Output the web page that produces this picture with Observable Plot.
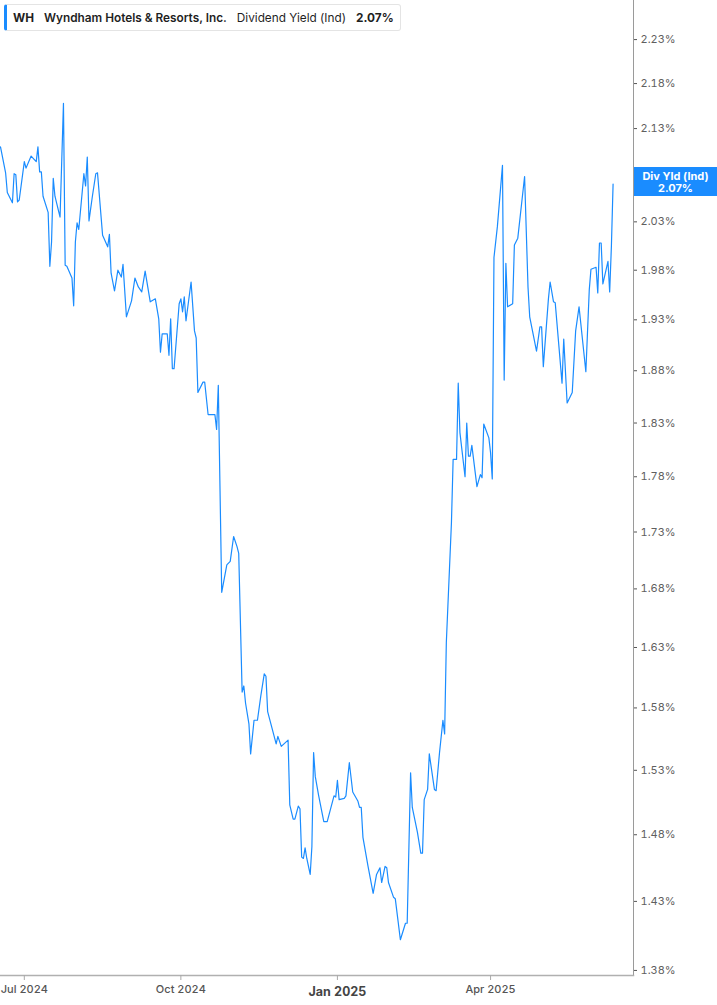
<!DOCTYPE html>
<html>
<head>
<meta charset="utf-8">
<script src="https://cdn.jsdelivr.net/npm/d3@7"></script>
<script src="https://cdn.jsdelivr.net/npm/@observablehq/plot@0.6"></script>
<style>
  body { margin: 0; background: #fff; font-family: Inter, "Noto Sans", sans-serif; }
  #wrap { position: relative; width: 717px; height: 1005px; overflow: hidden; }
  #hdr { position: absolute; left: 4px; top: 4px; height: 27px; width: 397px; box-sizing: border-box;
         border: 1px solid #e4e4e4; border-left: 3px solid #1a8cff; border-radius: 3px; background: #fff;
         display: flex; align-items: center; font-size: 11.8px; color: #1f1f1f; padding-left: 6px; white-space: nowrap; }
  #hdr span { margin-right: 10px; }
  .b { font-weight: 700; }
  .sb { font-weight: 600; }
  #tag { position: absolute; left: 634px; width: 83px; height: 29px; background: #1a8cff; color: #fff;
         font-size: 11px; font-weight: 700; line-height: 12px; text-align: center; display: flex;
         flex-direction: column; justify-content: center; }
</style>
</head>
<body>
<div id="wrap">
  <div id="chart"></div>
  <div id="hdr"></div>
  <div id="tag"></div>
</div>
<script>
const ticker = "WH";
const company = "Wyndham Hotels & Resorts, Inc.";
const metric = "Dividend Yield (Ind)";
const tagLabel = "Div Yld (Ind)";

const dates = [
"2024-06-17","2024-06-20","2024-06-21","2024-06-24","2024-06-25","2024-06-26","2024-06-27","2024-06-28",
"2024-07-01","2024-07-02","2024-07-05","2024-07-08","2024-07-09","2024-07-10","2024-07-11","2024-07-12",
"2024-07-15","2024-07-16","2024-07-17","2024-07-18","2024-07-19","2024-07-22","2024-07-24","2024-07-25",
"2024-07-26","2024-07-29","2024-07-30","2024-07-31","2024-08-01","2024-08-02","2024-08-05","2024-08-06",
"2024-08-07","2024-08-08","2024-08-10","2024-08-12","2024-08-13","2024-08-16","2024-08-19","2024-08-20",
"2024-08-21","2024-08-23","2024-08-25","2024-08-27","2024-08-28","2024-08-30","2024-09-02","2024-09-04",
"2024-09-06","2024-09-08","2024-09-10","2024-09-13","2024-09-16","2024-09-18","2024-09-19","2024-09-20",
"2024-09-23","2024-09-24","2024-09-25","2024-09-26","2024-09-27","2024-09-30","2024-10-01","2024-10-02",
"2024-10-03","2024-10-04","2024-10-07","2024-10-09","2024-10-10","2024-10-11","2024-10-14","2024-10-15",
"2024-10-17","2024-10-21","2024-10-22","2024-10-23","2024-10-25","2024-10-28","2024-10-30","2024-11-01",
"2024-11-03","2024-11-04","2024-11-06","2024-11-07","2024-11-08","2024-11-10","2024-11-11","2024-11-13",
"2024-11-15","2024-11-17","2024-11-19","2024-11-20","2024-11-21","2024-11-26","2024-11-27","2024-11-29",
"2024-12-03","2024-12-04","2024-12-06","2024-12-07","2024-12-09","2024-12-10","2024-12-11","2024-12-12",
"2024-12-13","2024-12-14","2024-12-16","2024-12-17","2024-12-18","2024-12-19","2024-12-21","2024-12-24",
"2024-12-26","2024-12-30","2024-12-31","2025-01-01","2025-01-02","2025-01-05","2025-01-06","2025-01-08",
"2025-01-10","2025-01-13","2025-01-14","2025-01-15","2025-01-16","2025-01-19","2025-01-22","2025-01-24",
"2025-01-26","2025-01-27","2025-01-29","2025-01-30","2025-01-31","2025-02-03","2025-02-04","2025-02-07",
"2025-02-10","2025-02-11","2025-02-13","2025-02-14","2025-02-17","2025-02-19","2025-02-20","2025-02-21",
"2025-02-23","2025-02-24","2025-02-27","2025-02-28","2025-03-02","2025-03-04","2025-03-05","2025-03-06",
"2025-03-09","2025-03-10","2025-03-12","2025-03-13","2025-03-14","2025-03-17","2025-03-18","2025-03-19",
"2025-03-20","2025-03-21","2025-03-24","2025-03-26","2025-03-27","2025-03-28","2025-03-31","2025-04-01",
"2025-04-02","2025-04-03","2025-04-05","2025-04-08","2025-04-09","2025-04-10","2025-04-11","2025-04-14",
"2025-04-15","2025-04-17","2025-04-21","2025-04-23","2025-04-24","2025-04-28","2025-04-30","2025-05-01",
"2025-05-02","2025-05-05","2025-05-06","2025-05-08","2025-05-09","2025-05-13","2025-05-14","2025-05-16",
"2025-05-19","2025-05-21","2025-05-23","2025-05-27","2025-05-29","2025-05-30","2025-06-02","2025-06-03",
"2025-06-04","2025-06-05","2025-06-06","2025-06-09","2025-06-10","2025-06-11","2025-06-12"
];

const yields = [
2.110,2.082,2.061,2.050,2.081,2.080,2.051,2.053,
2.094,2.087,2.100,2.094,2.110,2.083,2.083,2.057,
2.040,1.984,2.009,2.076,2.057,2.035,2.158,1.985,
1.984,1.972,1.944,2.009,2.029,2.022,2.081,2.068,
2.099,2.031,2.057,2.081,2.082,2.016,2.004,2.017,
1.977,1.959,1.980,1.973,1.986,1.933,1.949,1.972,
1.963,1.958,1.979,1.948,1.951,1.931,1.898,1.916,
1.916,1.895,1.931,1.882,1.882,1.946,1.951,1.938,
1.953,1.929,1.968,1.919,1.912,1.859,1.869,1.869,
1.838,1.838,1.824,1.866,1.677,1.701,1.704,1.726,
1.717,1.711,1.593,1.598,1.584,1.567,1.543,1.570,
1.570,1.590,1.608,1.606,1.577,1.551,1.557,1.549,
1.554,1.503,1.492,1.492,1.502,1.500,1.463,1.462,
1.470,1.462,1.450,1.471,1.544,1.525,1.510,1.490,
1.490,1.510,1.509,1.522,1.507,1.508,1.510,1.536,
1.513,1.506,1.501,1.501,1.478,1.456,1.436,1.450,
1.455,1.444,1.456,1.455,1.444,1.433,1.432,1.402,
1.414,1.414,1.528,1.501,1.482,1.466,1.466,1.507,
1.515,1.543,1.515,1.514,1.544,1.570,1.559,1.634,
1.738,1.796,1.796,1.868,1.821,1.780,1.830,1.799,
1.799,1.809,1.771,1.782,1.779,1.829,1.816,1.802,
1.778,1.993,2.025,2.090,1.871,1.987,1.943,1.946,
2.006,2.013,2.078,1.963,1.933,1.899,1.923,1.923,
1.884,1.951,1.968,1.948,1.947,1.868,1.911,1.849,
1.859,1.919,1.943,1.879,1.960,1.981,1.983,1.957,
2.008,2.008,1.966,1.989,1.958,2.004,2.07
];

// 2.08% is hidden behind the value tag in the reference
const yTicks = [1.38,1.43,1.48,1.53,1.58,1.63,1.68,1.73,1.78,1.83,1.88,1.93,1.98,2.03,2.13,2.18,2.23];
const xTicks = ["2024-07-01","2024-10-01","2025-04-01"];
const xTicksBold = ["2025-01-01"];
const xDomain = ["2024-06-17","2025-06-24"];
const yDomain = [1.3764, 2.2754];

const parse = d3.utcParse("%Y-%m-%d");
const data = dates.map((d, i) => ({date: parse(d), value: yields[i]}));
const fmtMonth = d3.utcFormat("%b %Y");
const lastValue = yields[yields.length - 1];

const chart = Plot.plot({
  width: 717,
  height: 1005,
  marginLeft: 0,
  marginRight: 84,
  marginTop: 0,
  marginBottom: 30,
  style: {fontFamily: "Inter, 'Noto Sans', sans-serif", background: "#fff", overflow: "visible"},
  x: {type: "utc", domain: xDomain.map(parse)},
  y: {type: "log", domain: yDomain},
  marks: [
    Plot.frame({anchor: "right", stroke: "#9a9a9a"}),
    Plot.frame({anchor: "bottom", stroke: "#b0b0b0", strokeWidth: 1.5}),
    Plot.axisY({anchor: "right", ticks: yTicks, tickFormat: d => d.toFixed(2) + "%", tickSize: 3, tickPadding: 4,
                fontSize: 11, color: "#5f5f5f", stroke: "#555", label: null}),
    Plot.axisX({ticks: xTicks.map(parse), tickFormat: fmtMonth, tickSize: 5, tickPadding: 5,
                fontSize: 11, fontWeight: 500, color: "#555", stroke: "#aaa", label: null}),
    Plot.axisX({ticks: xTicksBold.map(parse), tickFormat: fmtMonth, tickSize: 5, tickPadding: 7,
                fontSize: 12.5, fontWeight: 700, color: "#444", stroke: "#aaa", label: null}),
    Plot.line(data, {x: "date", y: "value", stroke: "#1a8cff", strokeWidth: 1.2})
  ]
});
document.getElementById("chart").appendChild(chart);

const hdr = document.getElementById("hdr");
hdr.innerHTML = `<span class="b">${ticker}</span><span class="sb">${company.replace("&","&amp;")}</span><span>${metric}</span><span class="b">${lastValue.toFixed(2)}%</span>`;

const tag = document.getElementById("tag");
const yPos = chart.scale("y").apply(lastValue);
tag.style.top = (yPos - 16) + "px";
tag.innerHTML = `<div>${tagLabel}</div><div>${lastValue.toFixed(2)}%</div>`;
</script>
</body>
</html>
